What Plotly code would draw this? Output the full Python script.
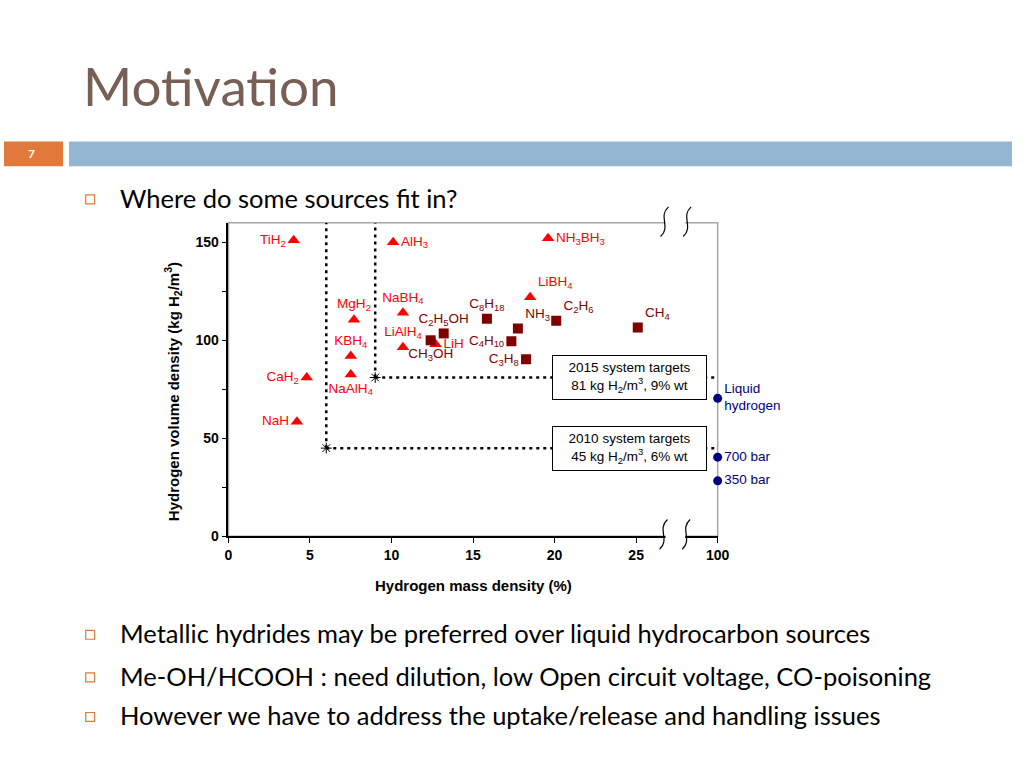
import plotly.graph_objects as go

# ---- data ----
hydride_names = ['TiH<sub>2</sub>', 'AlH<sub>3</sub>', 'NH<sub>3</sub>BH<sub>3</sub>', 'LiBH<sub>4</sub>',
                 'NaBH<sub>4</sub>', 'MgH<sub>2</sub>', 'KBH<sub>4</sub>', 'LiAlH<sub>4</sub>', 'LiH',
                 'CaH<sub>2</sub>', 'NaAlH<sub>4</sub>', 'NaH']
hydride_mass = [4.0, 10.1, 19.6, 18.5, 10.7, 7.7, 7.5, 10.7, 12.7, 4.8, 7.5, 4.2]
hydride_vol = [151, 150, 152, 122, 114, 110.5, 92, 96.5, 98, 81, 82.5, 58.5]
hydride_pos = ['middle left', 'middle right', 'middle right', 'top right', 'top center', 'top center',
               'top center', 'top center', 'middle right', 'middle left', 'bottom center', 'middle left']

fuel_names = ['C<sub>2</sub>H<sub>5</sub>OH', 'CH<sub>3</sub>OH', 'C<sub>8</sub>H<sub>18</sub>', 'NH<sub>3</sub>',
              'C<sub>4</sub>H<sub>10</sub>', 'C<sub>3</sub>H<sub>8</sub>', 'C<sub>2</sub>H<sub>6</sub>', 'CH<sub>4</sub>']
fuel_mass = [13.2, 12.4, 15.85, 17.75, 17.35, 18.25, 20.1, 25.1]
fuel_vol = [103.5, 100, 111, 106, 99.5, 90.3, 110, 106.5]
fuel_pos = ['top center', 'bottom center', 'top center', 'top right', 'middle left', 'middle left',
            'top right', 'top right']

h2_names = ['Liquid<br>hydrogen', '700 bar', '350 bar']
h2_mass = [30, 30, 30]   # the "100 %" position on the broken axis
h2_vol = [70.4, 40.4, 28.3]

target_names = ['2010 system targets<br>45 kg H<sub>2</sub>/m<sup>3</sup>, 6% wt',
                '2015 system targets<br>81 kg H<sub>2</sub>/m<sup>3</sup>, 9% wt']
target_mass = [6, 9]
target_vol = [45, 81]

x_ticks = [0, 5, 10, 15, 20, 25, 30]
x_ticktext = ['0', '5', '10', '15', '20', '25', '100']
y_ticks = [0, 25, 50, 75, 100, 125, 150]
y_ticktext = ['0', '', '50', '', '100', '', '150']

X_MAX = 30
Y_MAX = 160

RED = '#FF0000'
DARK_RED = '#7F0000'
NAVY = '#000080'
ORANGE = '#E0793A'
BLUE_BAR = '#94B6D3'
CHART_FONT = 'Liberation Sans'
SLIDE_FONT = 'Lato'


def px(x, y):
    # slide pixel -> paper coords
    return x / 1024, 1 - y / 768


fig = go.Figure()

# target guide lines
for m, v in zip(target_mass, target_vol):
    fig.add_trace(go.Scatter(x=[m, m], y=[v, Y_MAX], mode='lines',
                             line=dict(color='black', width=2.5, dash='3px,4px'),
                             hoverinfo='skip', showlegend=False))
    fig.add_trace(go.Scatter(x=[m, X_MAX], y=[v, v], mode='lines',
                             line=dict(color='black', width=2.5, dash='3px,4px'),
                             hoverinfo='skip', showlegend=False))
fig.add_trace(go.Scatter(x=target_mass, y=target_vol, mode='markers',
                         marker=dict(symbol='asterisk-open', size=9, color='black',
                                     line=dict(color='black', width=1)),
                         showlegend=False))

fig.add_trace(go.Scatter(x=hydride_mass, y=hydride_vol, mode='markers+text', text=hydride_names,
                         textposition=hydride_pos,
                         textfont=dict(family=CHART_FONT, size=13.5, color=RED),
                         marker=dict(symbol='triangle-up', size=11, color=RED),
                         showlegend=False))

fig.add_trace(go.Scatter(x=fuel_mass, y=fuel_vol, mode='markers+text', text=fuel_names,
                         textposition=fuel_pos,
                         textfont=dict(family=CHART_FONT, size=13.5, color=DARK_RED),
                         marker=dict(symbol='square', size=10, color=DARK_RED),
                         showlegend=False))

fig.add_trace(go.Scatter(x=h2_mass, y=h2_vol, mode='markers+text', text=h2_names,
                         textposition='middle right', cliponaxis=False,
                         textfont=dict(family=CHART_FONT, size=13.5, color=NAVY),
                         marker=dict(symbol='circle', size=9, color=NAVY),
                         showlegend=False))

# target boxes
for name, v in zip(target_names, target_vol):
    fig.add_annotation(x=24.6, y=v, xref='x', yref='y', text=name, showarrow=False,
                       xanchor='center', yanchor='middle',
                       font=dict(family=CHART_FONT, size=13.5, color='black'),
                       bgcolor='white', bordercolor='black', borderwidth=1,
                       width=147, height=37, borderpad=3)

# plot frame (grey top/right)
fig.add_shape(type='rect', xref='x domain', yref='y domain', x0=0, x1=1, y0=0, y1=1,
              line=dict(color='#A6A6A6', width=1.5), layer='below')


# axis break marks
def squiggle(cx, cy):
    x0, y0 = px(cx + 4, cy - 15)
    x1, y1 = px(cx - 7, cy - 5)
    x2, y2 = px(cx + 7, cy + 5)
    x3, y3 = px(cx - 4, cy + 15)
    return f'M {x0} {y0} C {x1} {y1} {x2} {y2} {x3} {y3}'


for yy in [226, 542]:
    fig.add_shape(type='rect', xref='paper', yref='paper', x0=px(672, 0)[0], x1=px(692, 0)[0],
                  y0=px(0, yy + 3)[1], y1=px(0, yy - 3)[1], fillcolor='white',
                  line=dict(width=0), layer='above')
for cx, cy in [(671, 224), (694, 224), (670, 540), (693, 540)]:
    fig.add_shape(type='path', xref='paper', yref='paper', path=squiggle(cx, cy),
                  line=dict(color='black', width=1.2))

# axis titles
fig.add_annotation(x=px(477, 0)[0], y=px(0, 592)[1], xref='paper', yref='paper',
                   text='<b>Hydrogen mass density (%)</b>', showarrow=False,
                   xanchor='center', yanchor='middle',
                   font=dict(family=CHART_FONT, size=15, color='black'))
fig.add_annotation(x=px(172, 0)[0], y=px(0, 396)[1], xref='paper', yref='paper',
                   text='<b>Hydrogen volume density (kg H<sub>2</sub>/m<sup>3</sup>)</b>',
                   showarrow=False, textangle=-90, xanchor='center', yanchor='middle',
                   font=dict(family=CHART_FONT, size=15, color='black'))

# ---- slide decoration ----
fig.add_annotation(x=px(78, 0)[0], y=px(0, 86)[1], xref='paper', yref='paper', text='Motivation',
                   showarrow=False, xanchor='left', yanchor='middle',
                   font=dict(family=SLIDE_FONT, size=53, color='#775F55'))
fig.add_shape(type='rect', xref='paper', yref='paper', x0=0, x1=px(60, 0)[0],
              y0=px(0, 168)[1], y1=px(0, 143)[1], fillcolor=ORANGE, line=dict(width=0))
fig.add_shape(type='rect', xref='paper', yref='paper', x0=px(66, 0)[0], x1=1,
              y0=px(0, 168)[1], y1=px(0, 143)[1], fillcolor=BLUE_BAR, line=dict(width=0))
fig.add_annotation(x=px(28, 0)[0], y=px(0, 155)[1], xref='paper', yref='paper', text='<b>7</b>',
                   showarrow=False, xanchor='center', yanchor='middle',
                   font=dict(family=SLIDE_FONT, size=12, color='white'))

bullets = [('Where do some sources fit in?', 200),
           ('Metallic hydrides may be preferred over liquid hydrocarbon sources', 640),
           ('Me-OH/HCOOH : need dilution, low Open circuit voltage, CO-poisoning', 683),
           ('However we have to address the uptake/release and handling issues', 723)]
for text, yy in bullets:
    fig.add_shape(type='rect', xref='paper', yref='paper', x0=px(83, 0)[0], x1=px(92, 0)[0],
                  y0=px(0, yy + 6)[1], y1=px(0, yy - 3)[1],
                  line=dict(color=ORANGE, width=1.2), fillcolor='white')
    fig.add_annotation(x=px(116, 0)[0], y=px(0, yy)[1], xref='paper', yref='paper', text=text,
                       showarrow=False, xanchor='left', yanchor='middle',
                       font=dict(family=SLIDE_FONT, size=25.5, color='black'))

fig.update_layout(
    width=1024, height=768,
    margin=dict(l=0, r=0, t=0, b=0),
    paper_bgcolor='white', plot_bgcolor='white',
    xaxis=dict(domain=[228 / 1024, 725 / 1024], range=[0, X_MAX], tickvals=x_ticks,
               ticktext=x_ticktext, showgrid=False, zeroline=False, showline=True,
               linecolor='black', linewidth=1.5, ticks='outside', ticklen=5, tickcolor='black',
               tickfont=dict(family=CHART_FONT, size=14, color='black', weight='bold')),
    yaxis=dict(domain=[1 - 542 / 768, 1 - 225 / 768], range=[0, Y_MAX], tickvals=y_ticks,
               ticktext=y_ticktext, showgrid=False, zeroline=False, showline=True,
               linecolor='black', linewidth=1.5, ticks='outside', ticklen=5, tickcolor='black',
               tickfont=dict(family=CHART_FONT, size=14, color='black', weight='bold')),
)

page_css = ("document.documentElement.style.margin='0px';"
            "document.body.style.margin='0px';"
            "document.documentElement.style.overflow='hidden';"
            "document.body.style.overflow='hidden';")
fig.write_html('out.html', config={'displayModeBar': False}, post_script=page_css)
